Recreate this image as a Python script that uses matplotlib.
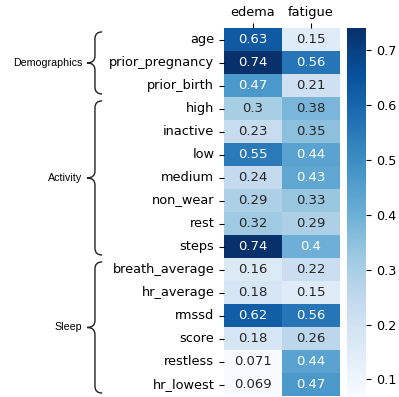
import numpy as np
import pandas as pd
import matplotlib
matplotlib.use("Agg")
import matplotlib.pyplot as plt
import matplotlib.transforms as mtransforms
from matplotlib.path import Path
from matplotlib.patches import PathPatch
import seaborn as sns

features = ["age", "prior_pregnancy", "prior_birth",
            "high", "inactive", "low", "medium", "non_wear", "rest", "steps",
            "breath_average", "hr_average", "rmssd", "score", "restless", "hr_lowest"]
edema = [0.63, 0.74, 0.47, 0.3, 0.23, 0.55, 0.24, 0.29, 0.32, 0.74,
         0.16, 0.18, 0.62, 0.18, 0.071, 0.069]
fatigue = [0.15, 0.56, 0.21, 0.38, 0.35, 0.44, 0.43, 0.33, 0.29, 0.4,
           0.22, 0.15, 0.56, 0.26, 0.44, 0.47]
groups = ["Demographics", "Activity", "Sleep"]
group_sizes = [3, 7, 6]

df = pd.DataFrame({"edema": edema, "fatigue": fatigue}, index=features)

fig = plt.figure(figsize=(3.99, 3.97), dpi=100)
ax = fig.add_axes([0.5614, 0.0013, 0.2907, 0.927])
cax = fig.add_axes([0.8697, 0.0013, 0.0476, 0.927])

sns.heatmap(df, ax=ax, cbar_ax=cax, cmap="Blues", annot=True,
            annot_kws={"fontsize": 9.5})
ax.xaxis.tick_top()
ax.tick_params(axis="both", labelsize=9.3, length=3.5)
ax.tick_params(axis="y", rotation=0)
cax.tick_params(labelsize=9.2, length=3.5)

# braces on the left, one per feature group
trans = mtransforms.blended_transform_factory(fig.transFigure, ax.transData)
x_right, x_mid, x_tip = 0.256, 0.238, 0.218
r = 0.3
start = 0
for name, n in zip(groups, group_sizes):
    y0 = start + 0.15
    y1 = start + n - 0.15
    ym = (y0 + y1) / 2
    verts = [(x_right, y0), (x_mid, y0), (x_mid, y0 + r),
             (x_mid, ym - r),
             (x_mid, ym), (x_tip, ym),
             (x_mid, ym), (x_mid, ym + r),
             (x_mid, y1 - r),
             (x_mid, y1), (x_right, y1)]
    codes = [Path.MOVETO, Path.CURVE3, Path.CURVE3,
             Path.LINETO,
             Path.CURVE3, Path.CURVE3,
             Path.CURVE3, Path.CURVE3,
             Path.LINETO,
             Path.CURVE3, Path.CURVE3]
    patch = PathPatch(Path(verts, codes), transform=trans, fill=False,
                      lw=1.0, color="#222222", clip_on=False)
    fig.add_artist(patch)
    fig.text(x_tip - 0.012, ym, name, transform=trans, ha="right", va="center",
             fontsize=7.7, family="Liberation Sans")
    start += n

fig.savefig("out.png", dpi=100)
